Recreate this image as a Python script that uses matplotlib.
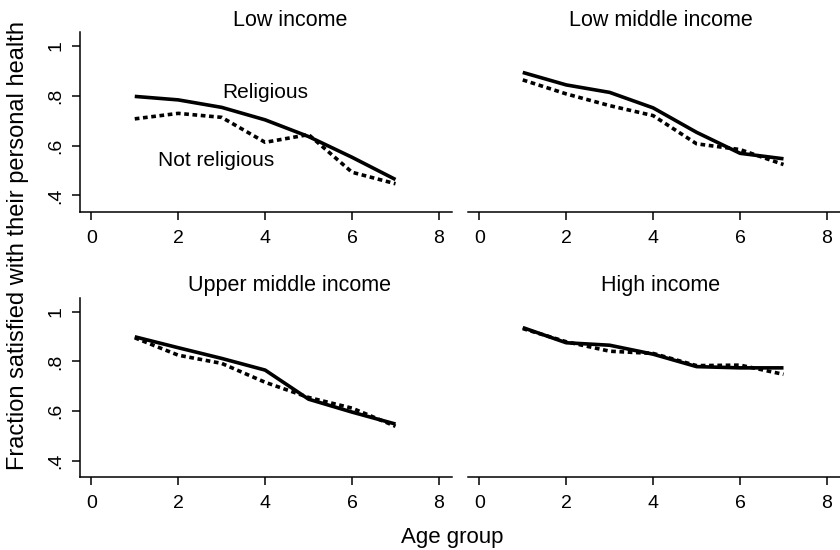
import matplotlib
matplotlib.use("Agg")
import matplotlib.pyplot as plt
from matplotlib.transforms import blended_transform_factory

plt.rcParams['font.family'] = ['Liberation Sans', 'DejaVu Sans']

age_groups = [1, 2, 3, 4, 5, 6, 7]
panel_titles = ["Low income", "Low middle income", "Upper middle income", "High income"]

religious = [
    [0.797, 0.783, 0.753, 0.703, 0.636, 0.553, 0.464],
    [0.893, 0.843, 0.813, 0.751, 0.653, 0.569, 0.547],
    [0.899, 0.855, 0.812, 0.765, 0.648, 0.596, 0.548],
    [0.936, 0.875, 0.865, 0.829, 0.779, 0.774, 0.774],
]
not_religious = [
    [0.707, 0.729, 0.713, 0.613, 0.644, 0.493, 0.447],
    [0.863, 0.807, 0.760, 0.720, 0.607, 0.584, 0.524],
    [0.895, 0.825, 0.792, 0.716, 0.655, 0.612, 0.539],
    [0.932, 0.879, 0.841, 0.832, 0.783, 0.785, 0.748],
]

x_ticks = [0, 2, 4, 6, 8]
y_ticks = [0.4, 0.6, 0.8, 1.0]
y_tick_labels = [".4", ".6", ".8", "1"]

W, H = 840, 550
fig = plt.figure(figsize=(W / 100, H / 100), dpi=100)

# panel boxes in pixels: (left, top, right, bottom)
boxes = [
    (80, 32, 452, 211.7),
    (468, 32, 840, 211.7),
    (80, 298, 452, 477),
    (468, 298, 840, 477),
]
# horizontal centre of each panel title, in data units
title_x = [4.57, 4.18, 4.57, 4.18]

for i, (l, t, r, b) in enumerate(boxes):
    ax = fig.add_axes([l / W, 1 - b / H, (r - l) / W, (b - t) / H])
    ax.plot(age_groups, religious[i], color="black", lw=2.6, solid_capstyle="butt")
    ax.plot(age_groups, not_religious[i], color="black", lw=2.6,
            linestyle=(0, (1.3, 1.0)), dash_capstyle="butt")
    ax.set_xlim(-0.26, 8.3)
    ax.set_ylim(0.335, 1.055)
    ax.set_xticks(x_ticks)
    ax.set_xticklabels([str(v) for v in x_ticks])
    ax.set_yticks(y_ticks)
    ax.set_yticklabels(y_tick_labels, rotation=90, va="center")
    for side in ("top", "right"):
        ax.spines[side].set_visible(False)
    ax.spines["bottom"].set_linewidth(1.1)
    ax.spines["left"].set_linewidth(1.1)
    ax.tick_params(axis="both", length=6, width=1.1, labelsize=14)
    ax.tick_params(axis="x", pad=7)
    ax.tick_params(axis="y", pad=5)
    if i % 2 == 1:
        ax.spines["left"].set_visible(False)
        ax.tick_params(axis="y", left=False, labelleft=False)
    trans = blended_transform_factory(ax.transData, ax.transAxes)
    ax.text(title_x[i], 1.0 + 12 / (b - t), panel_titles[i], transform=trans,
            fontsize=15.5, ha="center", va="center")
    ax.patch.set_visible(False)
    if i == 0:
        ax.text(4.0, 0.812, "Religious", fontsize=15, ha="center", va="center")
        ax.text(2.87, 0.542, "Not religious", fontsize=15, ha="center", va="center")

fig.text(18 / W, 1 - 245 / H, "Fraction satisfied with their personal health",
         rotation=90, fontsize=17, ha="center", va="center")
fig.text(452 / W, 1 - 537 / H, "Age group", fontsize=16, ha="center", va="center")

fig.savefig("out.png", dpi=100, facecolor="white")
